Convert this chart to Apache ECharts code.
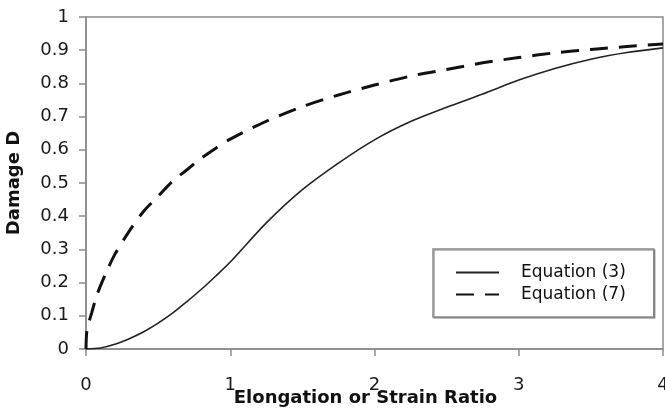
<!DOCTYPE html>
<html>
<head>
<meta charset="utf-8">
<script src="https://cdn.jsdelivr.net/npm/echarts@6/dist/echarts.min.js"></script>
<style>html,body{margin:0;padding:0;background:#fff}#c{width:665px;height:416px}</style>
</head>
<body>
<div id="c"></div>
<script>
var xTicks = [0, 1, 2, 3, 4];
var eq3X = [0, 0.1, 0.2, 0.3, 0.4, 0.5, 0.6, 0.7, 0.8, 0.9, 1.0, 1.25, 1.5, 1.75, 2.0, 2.25, 2.5, 2.75, 3.0, 3.25, 3.5, 3.75, 4.0];
var eq3Y = [0, 0.003, 0.014, 0.031, 0.052, 0.078, 0.108, 0.143, 0.18, 0.22, 0.262, 0.38, 0.48, 0.56, 0.63, 0.685, 0.728, 0.768, 0.81, 0.845, 0.873, 0.893, 0.907];
var eq7X = [0, 0.005, 0.02, 0.04, 0.07, 0.1, 0.15, 0.2, 0.3, 0.4, 0.5, 0.6, 0.7, 0.8, 0.9, 1.0, 1.25, 1.5, 1.75, 2.0, 2.25, 2.5, 2.75, 3.0, 3.25, 3.5, 3.75, 4.0];
var eq7Y = [0, 0.05, 0.08, 0.11, 0.155, 0.19, 0.24, 0.285, 0.355, 0.415, 0.46, 0.505, 0.54, 0.575, 0.605, 0.632, 0.686, 0.73, 0.765, 0.795, 0.822, 0.842, 0.862, 0.878, 0.892, 0.902, 0.911, 0.919];
var seriesNames = ['Equation (3)', 'Equation (7)'];

function pairs(xs, ys) { return xs.map(function (x, i) { return [x, ys[i]]; }); }

var FONT = 'DejaVu Sans';
var axisGray = '#8a8a8a';
var chart = echarts.init(document.getElementById('c'));
chart.setOption({
  animation: false,
  backgroundColor: '#fff',
  grid: {
    left: 86, right: 2, top: 17, bottom: 67,
    show: true, borderColor: axisGray, borderWidth: 1.5,
    containLabel: false, outerBoundsMode: 'none'
  },
  legend: {
    orient: 'vertical',
    left: 433, top: 249,
    data: seriesNames,
    itemWidth: 43, itemHeight: 14, itemGap: 5,
    padding: [15, 28, 14, 22],
    borderColor: '#8a8a8a', borderWidth: 1.5,
    backgroundColor: '#fff',
    shadowColor: 'rgba(0,0,0,0.35)', shadowOffsetX: 1, shadowOffsetY: 1, shadowBlur: 0,
    itemStyle: { opacity: 0 },
    textStyle: { fontFamily: FONT, fontSize: 17, color: '#111', lineHeight: 14, padding: [0, 0, 0, 17] }
  },
  xAxis: {
    type: 'value', min: 0, max: 4, interval: 1,
    name: 'Elongation or Strain Ratio', nameLocation: 'middle', nameGap: 40,
    nameMoveOverlap: false,
    nameTextStyle: { fontFamily: FONT, fontSize: 18, fontWeight: 'bold', color: '#111', padding: [0, 18, 0, 0] },
    axisLine: { show: true, lineStyle: { color: axisGray, width: 1.5 } },
    axisTick: { show: true, inside: false, length: 7, lineStyle: { color: axisGray, width: 1.5 } },
    axisLabel: { fontFamily: FONT, fontSize: 18, color: '#1a1a1a', margin: 27,
      formatter: function (v) { return xTicks.indexOf(v) >= 0 ? String(v) : ''; } },
    splitLine: { show: false }
  },
  yAxis: {
    type: 'value', min: 0, max: 1, interval: 0.1,
    name: 'Damage D', nameLocation: 'middle', nameGap: 63, nameRotate: 90,
    nameMoveOverlap: false,
    nameTextStyle: { fontFamily: FONT, fontSize: 18, fontWeight: 'bold', color: '#111' },
    axisLine: { show: true, lineStyle: { color: axisGray, width: 1.5 } },
    axisTick: { show: true, inside: false, length: 7, lineStyle: { color: axisGray, width: 1.5 } },
    axisLabel: { fontFamily: FONT, fontSize: 18, color: '#1a1a1a', margin: 17 },
    splitLine: { show: false }
  },
  series: [
    {
      name: seriesNames[0], type: 'line', data: pairs(eq3X, eq3Y),
      smooth: 0.3, symbol: 'none', showSymbol: false,
      lineStyle: { color: '#222', width: 1.6, type: 'solid' },
      itemStyle: { color: '#222' }
    },
    {
      name: seriesNames[1], type: 'line', data: pairs(eq7X, eq7Y),
      smooth: 0.3, symbol: 'none', showSymbol: false,
      lineStyle: { color: '#111', width: 3, type: [18, 11] },
      itemStyle: { color: '#111' }
    }
  ]
});
</script>
</body>
</html>
